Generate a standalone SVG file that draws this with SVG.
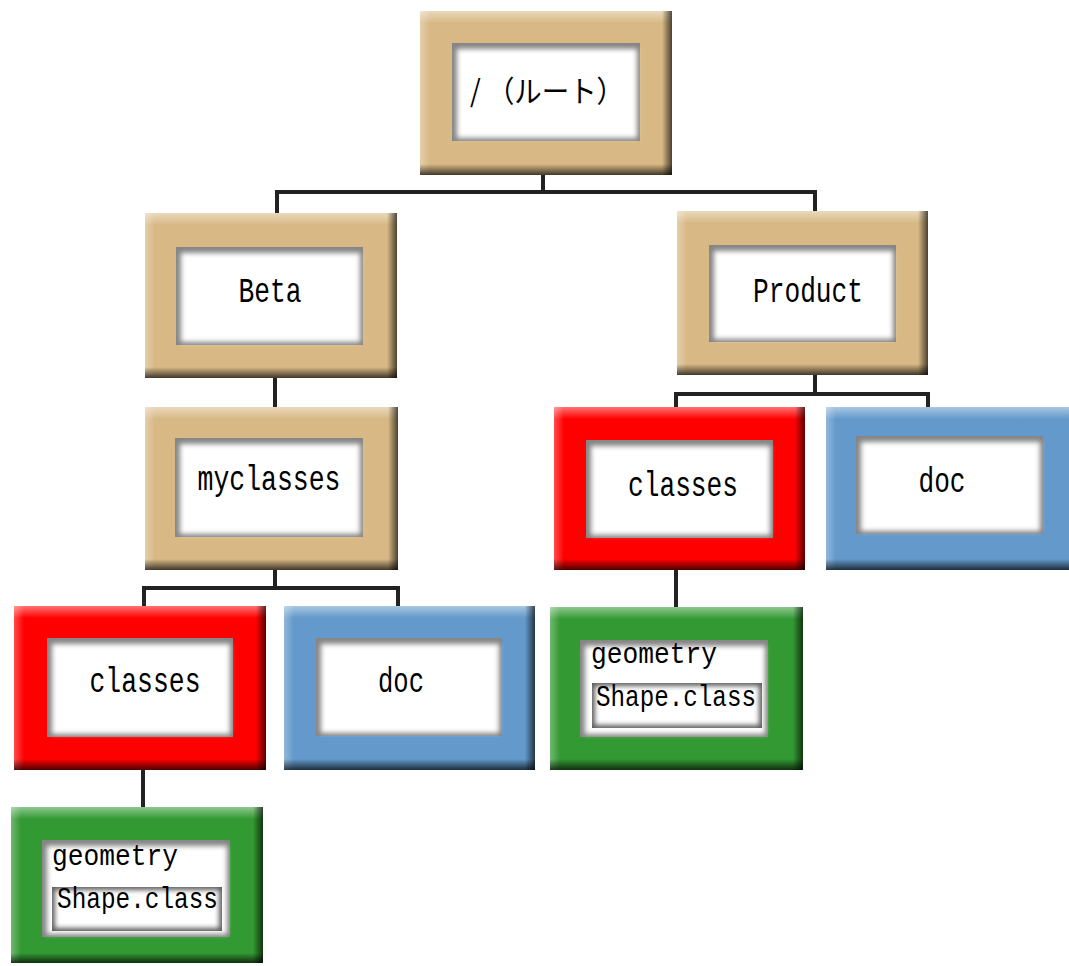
<svg xmlns="http://www.w3.org/2000/svg" width="1069" height="966" viewBox="0 0 1069 966">
<defs>
<linearGradient id="gTop" x1="0" y1="0" x2="0" y2="1"><stop offset="0" stop-color="#fff" stop-opacity="0.45"/><stop offset="1" stop-color="#fff" stop-opacity="0"/></linearGradient>
<linearGradient id="gLeft" x1="0" y1="0" x2="1" y2="0"><stop offset="0" stop-color="#fff" stop-opacity="0.3"/><stop offset="1" stop-color="#fff" stop-opacity="0"/></linearGradient>
<linearGradient id="gBottom" x1="0" y1="0" x2="0" y2="1"><stop offset="0" stop-color="#000" stop-opacity="0"/><stop offset="1" stop-color="#000" stop-opacity="0.7"/></linearGradient>
<linearGradient id="gRight" x1="0" y1="0" x2="1" y2="0"><stop offset="0" stop-color="#000" stop-opacity="0"/><stop offset="1" stop-color="#000" stop-opacity="0.65"/></linearGradient>
<filter id="soft" x="-10%" y="-10%" width="120%" height="120%"><feGaussianBlur stdDeviation="2.6"/></filter>
</defs>
<style>
.tan{fill:#D8B985}.red{fill:#FF0000}.blue{fill:#6399CB}.green{fill:#339933}
.st{fill:url(#gTop)}.sl{fill:url(#gLeft)}.sb{fill:url(#gBottom)}.sr{fill:url(#gRight)}
.well{fill:#858585}
.paper{fill:#fff;filter:url(#soft)}
.boxw{fill:#5e5e5e}
.lbl{font-family:"Liberation Mono","Noto Sans CJK JP",monospace;font-size:35px;fill:#000;text-anchor:middle}
.lbl2{font-family:"Liberation Mono","Noto Sans CJK JP",monospace;font-size:30px;fill:#000}
.jp{font-family:"Noto Sans CJK JP",sans-serif;font-size:30px;fill:#000}
.conn{stroke:#222;stroke-width:4;fill:none;stroke-linecap:square}
</style>

<g id="connectors">
<path class="conn" d="M543 175 V192 M277 192 H815 M277 192 V211 M815 192 V209"/>
<path class="conn" d="M275 378 V405"/>
<path class="conn" d="M275 570 V588 M144 588 H398 M144 588 V604 M398 588 V604"/>
<path class="conn" d="M815 375 V394 M676 394 H928 M676 394 V405 M928 394 V405"/>
<path class="conn" d="M143 770 V805"/>
<path class="conn" d="M676 570 V605"/>
</g>

<g id="root">
<rect class="tan" x="420" y="11" width="252" height="164"/>
<rect class="st" x="420" y="11" width="252" height="12"/><rect class="sl" x="420" y="11" width="10" height="164"/>
<rect class="sr" x="662" y="11" width="10" height="164"/><rect class="sb" x="420" y="164" width="252" height="11"/>
<rect class="well" x="452" y="43" width="188" height="98"/><rect class="paper" x="457" y="49" width="180" height="89"/>
<text class="jp" x="470" y="102" textLength="154" lengthAdjust="spacingAndGlyphs">/ （ルート）</text>
</g>

<g id="beta">
<rect class="tan" x="145" y="213" width="252" height="165"/>
<rect class="st" x="145" y="213" width="252" height="12"/><rect class="sl" x="145" y="213" width="10" height="165"/>
<rect class="sr" x="387" y="213" width="10" height="165"/><rect class="sb" x="145" y="367" width="252" height="11"/>
<rect class="well" x="176" y="247" width="187" height="98"/><rect class="paper" x="181" y="253" width="179" height="89"/>
<text class="lbl" x="270" y="302" textLength="63" lengthAdjust="spacingAndGlyphs">Beta</text>
</g>

<g id="product">
<rect class="tan" x="677" y="211" width="251" height="164"/>
<rect class="st" x="677" y="211" width="251" height="12"/><rect class="sl" x="677" y="211" width="10" height="164"/>
<rect class="sr" x="918" y="211" width="10" height="164"/><rect class="sb" x="677" y="364" width="251" height="11"/>
<rect class="well" x="709" y="245" width="187" height="97"/><rect class="paper" x="714" y="251" width="179" height="88"/>
<text class="lbl" x="808" y="302" textLength="110" lengthAdjust="spacingAndGlyphs">Product</text>
</g>

<g id="myclasses">
<rect class="tan" x="145" y="407" width="253" height="163"/>
<rect class="st" x="145" y="407" width="253" height="12"/><rect class="sl" x="145" y="407" width="10" height="163"/>
<rect class="sr" x="388" y="407" width="10" height="163"/><rect class="sb" x="145" y="559" width="253" height="11"/>
<rect class="well" x="175" y="438" width="188" height="99"/><rect class="paper" x="180" y="444" width="180" height="90"/>
<text class="lbl" x="269" y="490" textLength="143" lengthAdjust="spacingAndGlyphs">myclasses</text>
</g>

<g id="classes-left">
<rect class="red" x="14" y="606" width="252" height="164"/>
<rect class="st" x="14" y="606" width="252" height="12"/><rect class="sl" x="14" y="606" width="10" height="164"/>
<rect class="sr" x="256" y="606" width="10" height="164"/><rect class="sb" x="14" y="759" width="252" height="11"/>
<rect class="well" x="47" y="638" width="186" height="99"/><rect class="paper" x="52" y="644" width="178" height="90"/>
<text class="lbl" x="145" y="692" textLength="111" lengthAdjust="spacingAndGlyphs">classes</text>
</g>

<g id="doc-left">
<rect class="blue" x="284" y="606" width="251" height="164"/>
<rect class="st" x="284" y="606" width="251" height="12"/><rect class="sl" x="284" y="606" width="10" height="164"/>
<rect class="sr" x="525" y="606" width="10" height="164"/><rect class="sb" x="284" y="759" width="251" height="11"/>
<rect class="well" x="316" y="638" width="186" height="98"/><rect class="paper" x="321" y="644" width="178" height="89"/>
<text class="lbl" x="401" y="692" textLength="46" lengthAdjust="spacingAndGlyphs">doc</text>
</g>

<g id="classes-right">
<rect class="red" x="554" y="407" width="251" height="163"/>
<rect class="st" x="554" y="407" width="251" height="12"/><rect class="sl" x="554" y="407" width="10" height="163"/>
<rect class="sr" x="795" y="407" width="10" height="163"/><rect class="sb" x="554" y="559" width="251" height="11"/>
<rect class="well" x="586" y="440" width="187" height="98"/><rect class="paper" x="591" y="446" width="179" height="89"/>
<text class="lbl" x="683" y="496" textLength="110" lengthAdjust="spacingAndGlyphs">classes</text>
</g>

<g id="doc-right">
<rect class="blue" x="826" y="407" width="243" height="163"/>
<rect class="st" x="826" y="407" width="243" height="12"/><rect class="sl" x="826" y="407" width="10" height="163"/>
<rect class="sb" x="826" y="559" width="243" height="11"/>
<rect class="well" x="856" y="436" width="187" height="98"/><rect class="paper" x="861" y="442" width="179" height="89"/>
<text class="lbl" x="942" y="492" textLength="47" lengthAdjust="spacingAndGlyphs">doc</text>
</g>

<g id="geometry-left">
<rect class="green" x="11" y="807" width="252" height="156"/>
<rect class="st" x="11" y="807" width="252" height="12"/><rect class="sl" x="11" y="807" width="10" height="156"/>
<rect class="sr" x="253" y="807" width="10" height="156"/><rect class="sb" x="11" y="953" width="252" height="10"/>
<rect class="well" x="42" y="840" width="188" height="97"/><rect class="paper" x="47" y="846" width="180" height="88"/>
<text class="lbl2" x="52" y="865" textLength="126" lengthAdjust="spacingAndGlyphs">geometry</text>
<rect class="boxw" x="52" y="887" width="170" height="44"/><rect class="paper" x="55" y="890" width="164" height="38"/>
<text class="lbl2" x="57" y="908" textLength="161" lengthAdjust="spacingAndGlyphs">Shape.class</text>
</g>

<g id="geometry-right">
<rect class="green" x="550" y="607" width="253" height="163"/>
<rect class="st" x="550" y="607" width="253" height="12"/><rect class="sl" x="550" y="607" width="10" height="163"/>
<rect class="sr" x="793" y="607" width="10" height="163"/><rect class="sb" x="550" y="759" width="253" height="11"/>
<rect class="well" x="580" y="640" width="188" height="97"/><rect class="paper" x="585" y="646" width="180" height="88"/>
<text class="lbl2" x="591" y="663" textLength="126" lengthAdjust="spacingAndGlyphs">geometry</text>
<rect class="boxw" x="592" y="683" width="170" height="45"/><rect class="paper" x="595" y="686" width="164" height="39"/>
<text class="lbl2" x="596" y="706" textLength="160" lengthAdjust="spacingAndGlyphs">Shape.class</text>
</g>
</svg>
